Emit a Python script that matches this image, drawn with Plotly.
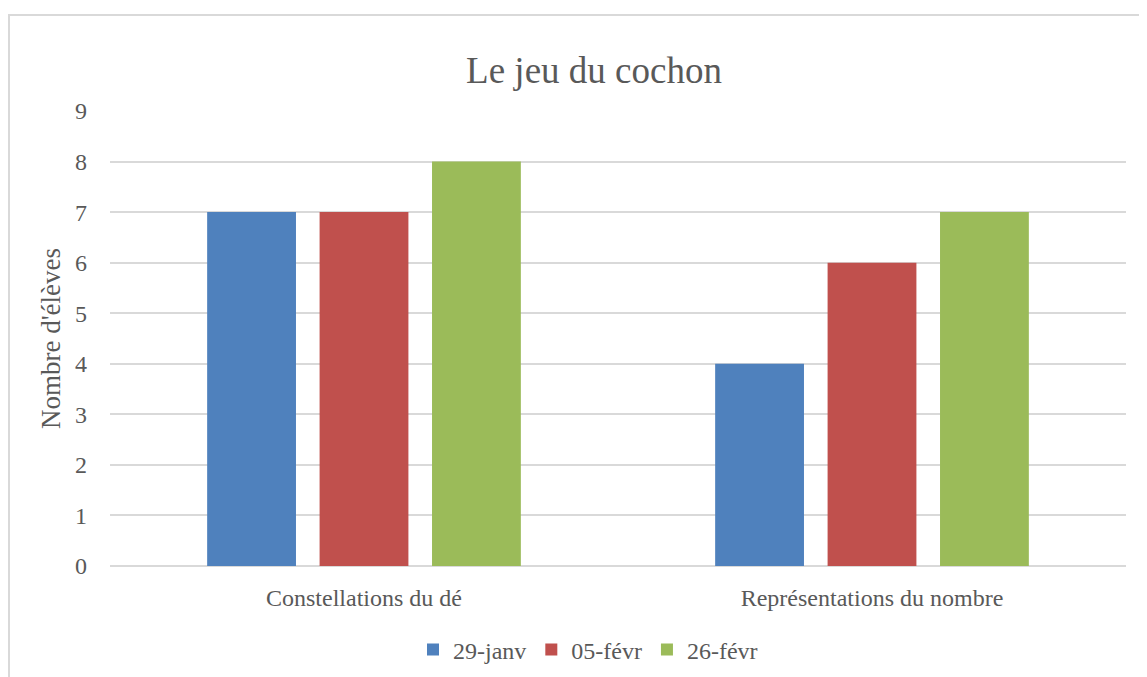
"""
Le jeu du cochon - grouped bar chart
"""

import plotly.graph_objects as go

categories = ['Constellations du dé', 'Représentations du nombre']
dates = ['29-janv', '05-févr', '26-févr']
values_29_janv = [7, 4]
values_05_fevr = [7, 6]
values_26_fevr = [8, 7]
colors = ['#4f81bd', '#c0504d', '#9bbb59']

series = [values_29_janv, values_05_fevr, values_26_fevr]

fig = go.Figure()

for name, vals, col in zip(dates, series, colors):
    fig.add_trace(go.Bar(
        name=name,
        x=categories,
        y=vals,
        marker=dict(color=col, line=dict(width=0))
    ))

# page has an 8px body margin, so everything is placed 8px up/left
OFF = 8
W, H = 1147, 677
# plot area wanted on screen: x 110-1126, y 111-566
X0, X1, Y0, Y1 = 110, 1126, 111, 566
L, T = X0 - OFF, Y0 - OFF
R, B = W - (X1 - OFF), H - (Y1 - OFF)
pw = X1 - X0
ph = Y1 - Y0


def px_x(x):
    return (x - X0) / pw


def px_y(y):
    return (Y1 - y) / ph


text_color = '#595959'
grid_color = '#d9d9d9'
serif = 'Liberation Serif, Times New Roman, serif'

fig.update_layout(
    width=W,
    height=H,
    paper_bgcolor='white',
    plot_bgcolor='white',
    font=dict(family=serif, color=text_color, size=24),
    title=dict(
        text='Le jeu du cochon',
        x=(594 - OFF) / W, xanchor='center',
        y=1 - (70 - OFF) / H, yanchor='middle',
        font=dict(size=37, color=text_color, family=serif)
    ),
    barmode='group',
    bargap=0.336,
    bargroupgap=0.21,
    margin=dict(l=L, r=R, t=T, b=B),
    xaxis=dict(
        showgrid=False,
        ticks='',
        tickfont=dict(size=24, color=text_color),
        ticklabelstandoff=15,
    ),
    yaxis=dict(
        range=[0, 9],
        dtick=1,
        gridcolor=grid_color,
        gridwidth=2,
        zeroline=True,
        zerolinecolor=grid_color,
        zerolinewidth=2,
        ticks='',
        ticklabelstandoff=22,
        tickfont=dict(size=24, color=text_color),
        title=dict(text="Nombre d'élèves", standoff=6,
                   font=dict(size=27, color=text_color)),
    ),
    legend=dict(
        orientation='h',
        x=px_x(588), xanchor='center',
        y=px_y(650), yanchor='middle',
        font=dict(size=24, color=text_color),
        itemwidth=30,
    ),
    shapes=[dict(
        type='rect', xref='paper', yref='paper',
        x0=px_x(9), x1=px_x(1170), y0=px_y(15), y1=px_y(700),
        line=dict(color=grid_color, width=2),
        layer='below'
    )]
)

fig.write_html("out.html")
